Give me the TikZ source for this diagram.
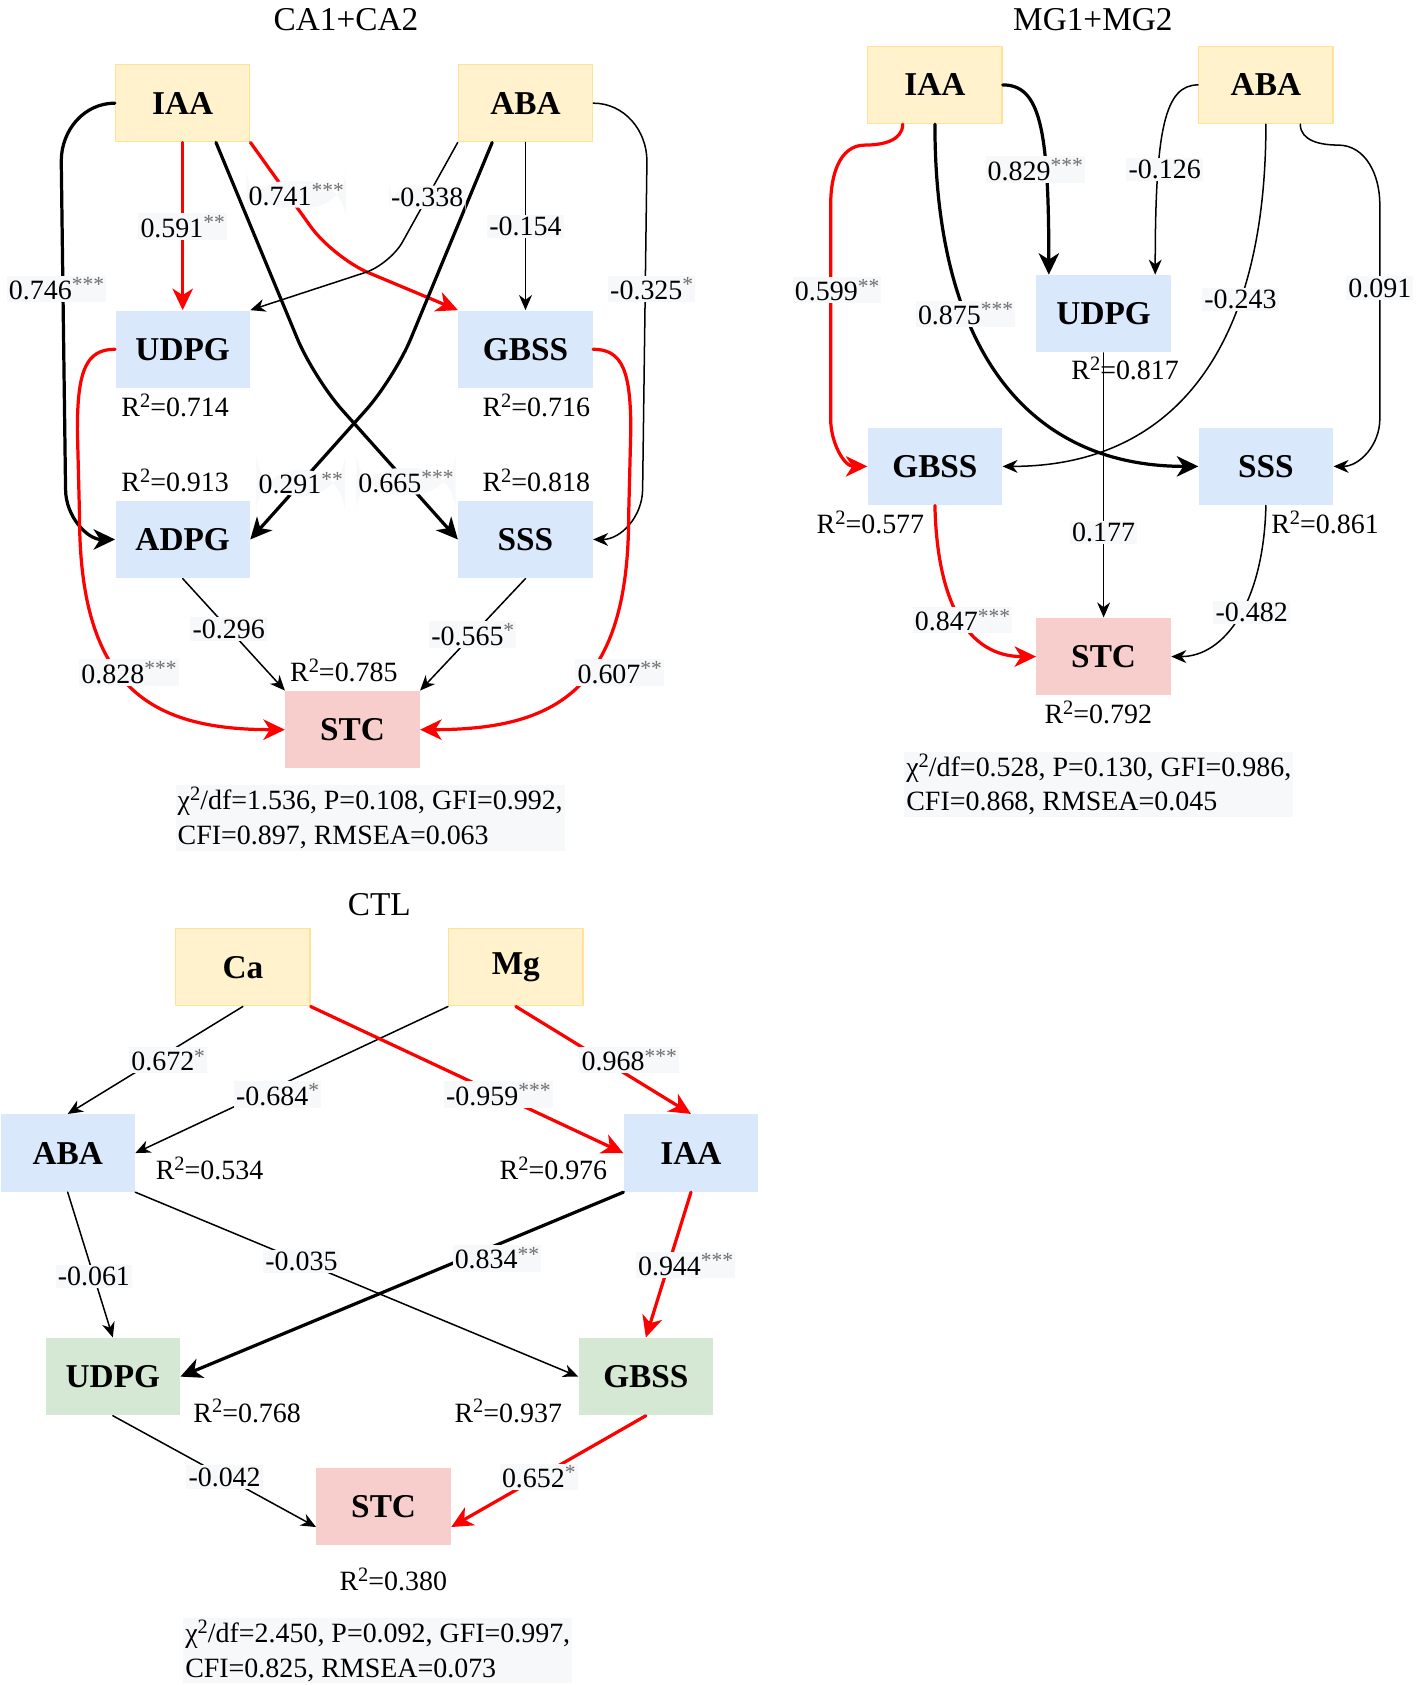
\documentclass[tikz,border=0pt]{standalone}
\usepackage{fontspec}
\setmainfont{Liberation Serif}
\usepackage{xcolor}
\usetikzlibrary{arrows.meta}
\definecolor{boxyellow}{RGB}{255,242,204}
\definecolor{edgeyellow}{RGB}{255,226,150}
\definecolor{boxblue}{RGB}{218,232,252}
\definecolor{boxpink}{RGB}{248,206,204}
\definecolor{boxgreen}{RGB}{213,232,212}
\definecolor{lblbg}{RGB}{247,248,250}
\definecolor{pathred}{RGB}{255,0,0}
\definecolor{stargray}{RGB}{112,112,112}
\newcommand{\supr}[1]{\raisebox{4.3pt}{\fontsize{9.5}{9.5}\selectfont #1}}
\newcommand{\pcoef}[2]{#1\raisebox{3.6pt}{\fontsize{10}{10}\selectfont\textcolor{stargray}{#2}}}
\newcommand{\rsq}[1]{R\supr{2}=#1}

\begin{document}
\begin{tikzpicture}[line cap=round,line join=round,x=0.5pt,y=-0.5pt,
  var/.style={minimum width=62.5pt,minimum height=36pt,inner sep=0pt,font=\fontsize{15.5}{18}\selectfont\bfseries},
  exo/.style={var,fill=boxyellow,draw=edgeyellow,line width=0.6pt},
  med/.style={var,fill=boxblue},
  enz/.style={var,fill=boxgreen},
  res/.style={var,fill=boxpink},
  lbl/.style={fill=lblbg,inner sep=1pt,font=\fontsize{13}{15}\selectfont},
  rlbl/.style={inner sep=1pt,font=\fontsize{13}{15}\selectfont},
  ttl/.style={font=\fontsize{15.5}{18}\selectfont},
  fitlbl/.style={fill=lblbg,inner sep=1pt,align=left,anchor=north west,font=\fontsize{13}{16}\selectfont},
  nsarr/.style={line width=0.7pt,-{Stealth[length=7pt,width=6pt,inset=2.2pt]}},
  bigarr/.style={line width=1.5pt,-{Stealth[length=10pt,width=9.5pt,inset=3pt]}},
  redarr/.style={bigarr,draw=pathred}]
\useasboundingbox (0,0) rectangle (1319,1568);
\fill [white] (0,0) rectangle (1319,1568);

\node [ttl] (t1) at (322,18) {CA1+CA2};
\node [exo] (iaa1) at (170,96) {IAA};
\node [exo] (aba1) at (489,96) {ABA};
\node [med] (udpg1) at (170,325) {UDPG};
\node [med] (gbss1) at (489,325) {GBSS};
\node [med] (adpg1) at (170,502) {ADPG};
\node [med] (sss1) at (489,502) {SSS};
\node [res] (stc1) at (328,679) {STC};
\node [rlbl] (r1a) at (163,377) {\rsq{0.714}};
\node [rlbl] (r1b) at (499,377) {\rsq{0.716}};
\node [rlbl] (r1c) at (163,447) {\rsq{0.913}};
\node [rlbl] (r1d) at (499,447) {\rsq{0.818}};
\node [rlbl] (r1e) at (320,624) {\rsq{0.785}};
\draw [redarr] (iaa1) -- node[lbl]{\pcoef{0.591}{**}} (udpg1);
\draw [redarr,rounded corners=18pt] (iaa1.south east) -- node[lbl,pos=0.45,xshift=4pt]{\pcoef{0.741}{***}} (310,240) -- (gbss1.north west);
\draw [bigarr] (iaa1.west) to[out=180,in=90] (57,150) -- node[lbl,pos=0.39,xshift=-3pt]{\pcoef{0.746}{***}} (61,455) to[out=-90,in=180] (adpg1.west);
\draw [bigarr,rounded corners=20pt] ([xshift=15.5pt]iaa1.south) -- (292,352) -- node[lbl,pos=0.64]{\pcoef{0.665}{***}} (sss1.west);
\draw [bigarr,rounded corners=20pt] ([xshift=-15.5pt]aba1.south) -- (367,352) -- node[lbl,pos=0.65]{\pcoef{0.291}{**}} (adpg1.east);
\draw [nsarr,rounded corners=12pt] (aba1.south west) -- node[lbl,pos=0.45]{-0.338} (363,246) -- (udpg1.north east);
\draw [nsarr] (aba1) -- node[lbl]{-0.154} (gbss1);
\draw [nsarr] (aba1.east) to[out=0,in=90] (602,150) -- node[lbl,pos=0.39,xshift=3pt]{\pcoef{-0.325}{*}} (598,455) to[out=-90,in=0] (sss1.east);
\draw [redarr] (udpg1.west) .. controls (80,325) and (72,345) .. (72,400) -- (74,480) .. controls (74,640) and (140,679) .. (stc1.west) node[lbl,pos=0.43,xshift=5pt]{\pcoef{0.828}{***}};
\draw [redarr] (gbss1.east) .. controls (579,325) and (587,345) .. (587,400) -- (585,480) .. controls (585,640) and (519,679) .. (stc1.east) node[lbl,pos=0.43,xshift=14pt]{\pcoef{0.607}{**}};
\draw [nsarr] (adpg1.south) -- node[lbl,pos=0.45]{-0.296} (stc1.north west);
\draw [nsarr] (sss1.south) -- node[lbl]{\pcoef{-0.565}{*}} (stc1.north east);
\node [fitlbl] (fit1) at (163,730) {χ\supr{2}/df=1.536, P=0.108, GFI=0.992,\\CFI=0.897, RMSEA=0.063};

\node [ttl] (t2) at (1017,18) {MG1+MG2};
\node [exo] (iaa2) at (870,79) {IAA};
\node [exo] (aba2) at (1178,79) {ABA};
\node [med] (udpg2) at (1027,292) {UDPG};
\node [med] (gbss2) at (870,434) {GBSS};
\node [med] (sss2) at (1178,434) {SSS};
\node [res] (stc2) at (1027,611) {STC};
\node [rlbl] (r2a) at (1047,343) {\rsq{0.817}};
\node [rlbl] (r2b) at (810,486) {\rsq{0.577}};
\node [rlbl] (r2c) at (1233,486) {\rsq{0.861}};
\node [rlbl] (r2d) at (1022,663) {\rsq{0.792}};
\draw [bigarr] (iaa2.east) .. controls (968,79) and (976,120) .. ([xshift=-25.5pt]udpg2.north) node[lbl,pos=0.7,xshift=-5pt]{\pcoef{0.829}{***}};
\draw [nsarr] (aba2.west) .. controls (1084,79) and (1075,120) .. ([xshift=24pt]udpg2.north) node[lbl,pos=0.7,xshift=3pt]{-0.126};
\draw [redarr] ([xshift=-15pt]iaa2.south) to[out=-90,in=0] (805,135) to[out=180,in=90] (773,190) -- node[lbl,pos=0.4,xshift=3pt]{\pcoef{0.599}{**}} (773,390) to[out=-90,in=180] (gbss2.west);
\draw [bigarr] (iaa2.south) .. controls (870,330) and (960,434) .. (sss2.west) node[lbl,pos=0.33]{\pcoef{0.875}{***}};
\draw [nsarr] (aba2.south) .. controls (1178,330) and (1088,434) .. (gbss2.east) node[lbl,pos=0.3]{-0.243};
\draw [nsarr] ([xshift=16pt]aba2.south) to[out=-90,in=180] (1245,135) to[out=0,in=90] (1284,190) -- node[lbl,pos=0.39]{0.091} (1284,390) to[out=-90,in=0] (sss2.east);
\draw [nsarr] (udpg2) -- node[lbl,pos=0.68]{0.177} (stc2);
\draw [redarr] (gbss2.south) .. controls (872,560) and (900,611) .. (stc2.west) node[lbl,pos=0.52]{\pcoef{0.847}{***}};
\draw [nsarr] (sss2.south) .. controls (1176,560) and (1140,611) .. (stc2.east) node[lbl,pos=0.47,xshift=5pt]{-0.482};
\node [fitlbl] (fit2) at (841,699) {χ\supr{2}/df=0.528, P=0.130, GFI=0.986,\\CFI=0.868, RMSEA=0.045};

\node [ttl] (t3) at (353,842) {CTL};
\node [exo] (ca3) at (226,900) {Ca};
\node [exo] (mg3) at (480,900) {Mg};
\node [med] (aba3) at (63,1073) {ABA};
\node [med] (iaa3) at (643,1073) {IAA};
\node [enz] (udpg3) at (105,1281) {UDPG};
\node [enz] (gbss3) at (601,1281) {GBSS};
\node [res] (stc3) at (357,1402) {STC};
\node [rlbl] (r3a) at (195,1087) {\rsq{0.534}};
\node [rlbl] (r3b) at (515,1087) {\rsq{0.976}};
\node [rlbl] (r3c) at (230,1313) {\rsq{0.768}};
\node [rlbl] (r3d) at (473,1313) {\rsq{0.937}};
\node [rlbl] (r3e) at (366,1470) {\rsq{0.380}};
\draw [nsarr] (ca3.south) -- node[lbl,xshift=6pt]{\pcoef{0.672}{*}} (aba3.north);
\draw [nsarr] (mg3.south west) -- node[lbl,pos=0.6,xshift=8pt]{\pcoef{-0.684}{*}} (aba3.east);
\draw [redarr] (ca3.south east) -- node[lbl,pos=0.6]{\pcoef{-0.959}{***}} (iaa3.west);
\draw [redarr] (mg3.south) -- node[lbl,xshift=12pt]{\pcoef{0.968}{***}} (iaa3.north);
\draw [nsarr] (aba3.south) -- node[lbl,pos=0.58]{-0.061} (udpg3.north);
\draw [nsarr] (aba3.south east) -- node[lbl,pos=0.375]{-0.035} (gbss3.west);
\draw [bigarr] (iaa3.south west) -- node[lbl,pos=0.3,xshift=3pt,yshift=-5pt]{\pcoef{0.834}{**}} (udpg3.east);
\draw [redarr] (iaa3.south) -- node[lbl,xshift=8pt]{\pcoef{0.944}{***}} (gbss3.north);
\draw [nsarr] (udpg3.south) -- node[lbl,pos=0.55]{-0.042} ([yshift=-9.5pt]stc3.west);
\draw [redarr] (gbss3.south) -- node[lbl,pos=0.55]{\pcoef{0.652}{*}} ([yshift=-9.5pt]stc3.east);
\node [fitlbl] (fit3) at (170,1505) {χ\supr{2}/df=2.450, P=0.092, GFI=0.997,\\CFI=0.825, RMSEA=0.073};
\end{tikzpicture}
\end{document}
